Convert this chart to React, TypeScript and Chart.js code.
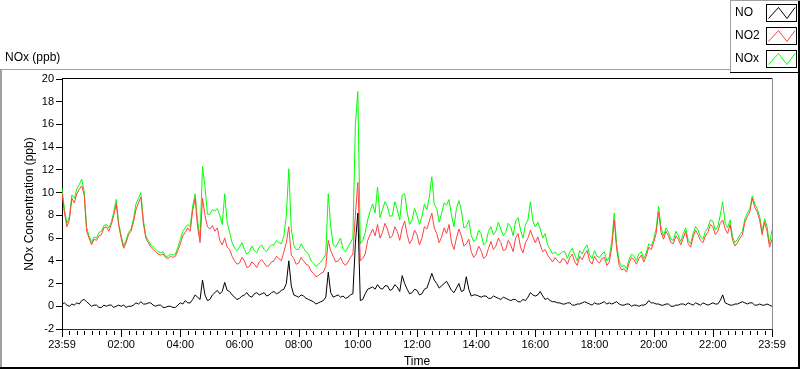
import React, { useEffect, useRef } from 'react';
import { Chart, registerables } from 'chart.js';

Chart.register(...registerables);

// ---- data ----
const SAMPLE_STEP_MIN = 5; // one sample every 5 minutes, starting 23:59
const X_LABELS = ['23:59', '02:00', '04:00', '06:00', '08:00', '10:00', '12:00', '14:00', '16:00', '18:00', '20:00', '22:00', '23:59'];
const X_MAJOR_STEP = 120; // minutes
const X_MINOR_STEP = 15; // minutes
const Y_TICKS = [-2, 0, 2, 4, 6, 8, 10, 12, 14, 16, 18, 20];
const SERIES_NAMES = ['NO', 'NO2', 'NOx'];
const SERIES_COLORS = ['#000000', '#ff4040', '#00ff00'];

// one row per hour (12 samples), last row closes at 23:59
const NO = [
  0.2, 0.3, 0.1, 0.0, 0.2, 0.1, 0.3, 0.2, 0.5, 0.6, 0.4, 0.2,
  0.0, 0.1, 0.1, -0.1, -0.1, 0.1, 0.0, 0.1, 0.1, -0.1, 0.0, 0.1,
  0.0, 0.1, -0.1, 0.0, 0.0, 0.1, 0.3, 0.2, 0.4, 0.2, 0.2, 0.3,
  0.3, 0.1, 0.0, 0.1, 0.1, -0.1, -0.1, 0.0, 0.0, -0.1, -0.1, 0.1,
  0.3, 0.2, 0.5, 0.3, 0.3, 0.6, 1.0, 0.8, 0.6, 2.3, 1.0, 0.5,
  0.6, 1.0, 1.2, 1.4, 1.1, 1.3, 2.1, 1.4, 1.3, 1.0, 0.8, 0.6,
  0.7, 0.9, 1.0, 1.2, 0.9, 0.8, 1.1, 1.2, 1.0, 1.1, 1.2, 0.9,
  1.0, 1.2, 1.3, 1.1, 1.2, 1.4, 1.5, 2.0, 4.0, 1.8, 1.0, 0.9,
  0.8, 1.0, 0.9, 0.7, 0.6, 0.5, 0.4, 0.2, 0.3, 0.4, 0.5, 0.8,
  3.0, 1.2, 0.8, 0.9, 1.0, 0.8, 0.9, 0.7, 0.8, 1.0, 1.1, 5.5,
  8.2, 0.5, 0.6, 1.1, 1.5, 1.6, 1.7, 1.5, 1.9, 1.6, 1.5, 1.8,
  1.8, 1.4, 1.5, 1.9, 1.7, 1.3, 2.7, 2.0, 1.5, 1.1, 1.2, 1.5,
  1.4, 1.0, 1.1, 1.5, 1.6, 2.2, 2.9, 2.3, 2.0, 1.6, 1.8, 2.0,
  2.2, 1.8, 1.4, 1.2, 1.6, 2.0, 1.3, 1.4, 2.6, 1.5, 0.9, 1.0,
  1.0, 0.9, 0.8, 0.9, 0.9, 0.7, 0.7, 0.9, 0.8, 0.7, 0.6, 0.8,
  0.7, 0.6, 0.5, 0.6, 0.6, 0.4, 0.4, 0.6, 0.5, 0.8, 1.2, 1.0,
  0.9, 1.0, 1.3, 0.9, 0.6, 0.7, 0.5, 0.4, 0.4, 0.3, 0.3, 0.2,
  0.2, 0.3, 0.3, 0.1, 0.1, 0.2, 0.2, 0.3, 0.4, 0.3, 0.2, 0.1,
  0.3, 0.2, 0.2, 0.3, 0.4, 0.2, 0.3, 0.2, 0.3, 0.4, 0.2, 0.1,
  0.1, 0.2, 0.2, 0.0, 0.1, 0.1, 0.0, 0.1, 0.1, 0.2, 0.5, 0.3,
  0.3, 0.2, 0.2, 0.1, 0.1, 0.2, 0.2, 0.0, 0.0, 0.1, 0.1, 0.2,
  0.2, 0.1, 0.3, 0.2, 0.1, 0.3, 0.2, 0.1, 0.3, 0.2, 0.1, 0.2,
  0.3, 0.2, 0.2, 0.5, 1.0, 0.3, 0.2, 0.1, 0.1, 0.2, 0.2, 0.3,
  0.4, 0.3, 0.2, 0.3, 0.3, 0.1, 0.1, 0.2, 0.1, 0.1, 0.2, 0.1, 0.0,
];

const NO2 = [
  10.0, 8.2, 7.0, 7.6, 9.5, 9.1, 9.9, 10.3, 10.6, 9.8, 6.6, 6.0,
  5.4, 5.9, 5.8, 6.2, 6.3, 6.9, 7.0, 6.6, 7.2, 8.0, 9.0, 7.1,
  6.0, 5.1, 5.6, 6.3, 6.6, 7.4, 8.5, 9.1, 9.6, 7.3, 6.0, 5.6,
  5.2, 5.0, 4.8, 4.6, 4.5, 4.6, 4.3, 4.2, 4.4, 4.3, 4.4, 4.9,
  5.5, 6.2, 6.5, 6.9, 6.6, 8.4, 9.5, 7.0, 5.6, 9.5, 8.0, 7.0,
  6.8, 7.1, 6.6, 6.9, 5.8, 5.4, 6.0, 5.2, 5.0, 4.4, 4.0, 3.7,
  3.8, 4.3, 4.0, 3.4, 3.5, 3.9, 3.7, 3.4, 3.9, 4.1, 3.8, 3.5,
  3.6, 3.9, 4.0, 4.4, 4.2, 4.0, 4.8, 5.6, 7.0, 4.5, 4.2, 3.7,
  3.8, 4.3, 4.0, 3.7, 3.6, 3.1, 2.9, 2.6, 2.7, 2.9, 3.0, 3.5,
  5.8, 4.9, 4.4, 3.9, 4.0, 4.3, 3.8, 3.6, 3.9, 4.3, 4.6, 8.0,
  10.9, 4.0, 4.2, 4.6, 5.8, 6.3, 6.8, 6.2, 7.2, 6.0, 6.5, 7.3,
  6.8, 6.0, 6.2, 7.0, 6.6, 5.8, 6.9, 7.5, 6.3, 5.5, 5.9, 6.7,
  6.3, 5.4, 6.0, 7.0, 6.8, 7.5, 8.2, 6.9, 6.4, 5.6, 6.1, 6.9,
  6.4, 7.2, 5.6, 5.0, 6.0, 6.8, 6.2, 5.3, 5.5, 5.9, 4.8, 4.3,
  4.6, 5.3, 4.9, 4.2, 4.4, 5.1, 5.7, 5.0, 5.3, 6.0, 5.6, 4.9,
  5.0, 5.8, 5.4, 4.8, 6.0, 6.4, 5.2, 4.7, 5.6, 6.0, 6.7, 6.1,
  5.6, 6.1, 5.4, 4.8, 5.0, 4.5, 4.2, 3.9, 4.3, 4.0, 3.8, 4.2,
  4.1, 3.7, 4.3, 4.6, 3.9, 3.6, 4.4, 4.1, 4.6, 4.9, 4.0, 3.7,
  4.4, 4.0, 3.8, 4.2, 4.3, 3.6, 3.9, 5.2, 7.6, 5.0, 3.6, 3.2,
  3.3, 3.0, 3.8, 4.3, 4.1, 3.7, 4.2, 4.5, 3.9, 4.4, 5.2, 5.0,
  5.6, 6.4, 8.3, 6.5, 5.9, 6.6, 6.2, 5.6, 5.5, 6.2, 5.9, 5.4,
  6.0, 6.6, 5.5, 5.2, 6.1, 6.7, 6.3, 5.8, 5.6, 6.2, 6.5, 7.2,
  7.0, 6.3, 6.6, 7.3, 7.6, 6.8, 6.4, 7.2, 5.8, 5.3, 5.6, 6.0,
  6.3, 7.4, 7.9, 8.3, 9.5, 8.7, 8.3, 7.6, 6.3, 7.4, 6.6, 5.2, 5.9,
];

const NOX = [
  10.4, 8.5, 7.3, 7.9, 9.8, 9.5, 10.3, 10.7, 11.2, 10.1, 6.9, 6.2,
  5.6, 6.1, 6.0, 6.5, 6.6, 7.1, 7.2, 6.9, 7.4, 8.3, 9.4, 7.3,
  6.2, 5.3, 5.8, 6.5, 6.8, 7.7, 9.0, 9.5, 10.0, 7.6, 6.2, 5.8,
  5.4, 5.2, 5.0, 4.8, 4.7, 4.8, 4.4, 4.4, 4.6, 4.5, 4.6, 5.2,
  5.9, 6.6, 6.9, 7.2, 7.0, 8.8, 9.9, 7.5, 6.1, 12.3, 10.5, 8.1,
  8.1, 8.5, 8.4, 8.6, 8.0, 7.2, 9.9, 7.4, 6.5, 5.6, 5.1, 4.9,
  5.2, 5.6, 5.0, 4.6, 4.8, 5.3, 4.9, 4.7, 5.2, 5.4, 5.0, 4.8,
  5.2, 5.4, 5.4, 5.8, 5.6, 5.5, 6.2, 8.0, 12.1, 6.8, 5.4, 5.0,
  5.0, 5.5, 5.1, 4.8, 4.6, 4.0, 3.8, 3.5, 3.7, 3.9, 4.2, 4.6,
  9.9, 7.0, 5.4, 5.2, 5.6, 6.0, 5.0, 4.8, 5.2, 5.6, 6.0, 16.0,
  18.9, 5.5, 5.8, 6.5, 7.6, 8.4, 9.0, 8.2, 10.5, 7.8, 8.5, 9.2,
  8.8, 7.9, 8.0, 9.2, 8.5, 7.6, 9.8, 9.9, 8.3, 7.2, 7.6, 8.6,
  8.0, 7.2, 7.9, 9.0, 8.5, 9.6, 11.4, 9.0, 8.6, 7.4, 8.2, 9.1,
  8.9, 9.4, 8.0, 7.0, 8.6, 9.3, 8.4, 6.9, 7.0, 7.6, 6.2, 5.7,
  5.9, 6.7, 6.4, 5.4, 5.6, 6.6, 7.0, 6.3, 6.6, 7.4, 6.8, 6.2,
  6.5, 7.3, 7.0, 6.2, 7.5, 7.8, 6.7, 6.0, 7.2, 7.6, 9.2, 7.5,
  7.0, 7.4, 6.8, 6.0, 6.4, 5.4, 5.0, 4.6, 4.8, 4.5, 4.6, 4.8,
  4.8, 4.2, 4.8, 5.1, 4.5, 4.0, 4.9, 4.6, 5.1, 5.4, 4.5, 4.2,
  4.9, 4.4, 4.3, 4.6, 4.8, 4.0, 4.3, 5.7, 8.2, 5.4, 4.0, 3.5,
  3.6, 3.3, 4.1, 4.6, 4.4, 4.0, 4.6, 4.8, 4.2, 4.7, 5.5, 5.3,
  5.9, 6.8, 8.8, 6.9, 6.2, 6.9, 6.5, 5.9, 5.8, 6.6, 6.2, 5.7,
  6.4, 6.9, 5.8, 5.5, 6.4, 7.0, 6.7, 6.1, 5.9, 6.6, 6.9, 7.6,
  7.5, 6.7, 7.0, 8.0, 9.2, 7.3, 6.9, 7.6, 6.1, 5.6, 5.9, 6.3,
  6.6, 7.7, 8.2, 8.6, 9.7, 9.0, 8.6, 7.9, 6.6, 7.7, 7.0, 5.5, 6.7,
];

const SERIES = [NO, NO2, NOX];

const FONT = "'Liberation Sans', Arial, sans-serif";
const TEXT_COLOR = '#000000';

const toPoints = (arr: number[]) => arr.map((v, i) => ({ x: i * SAMPLE_STEP_MIN, y: v }));

const framePlugin = {
  id: 'labviewFrame',
  afterDraw(chart: any) {
    const ctx: CanvasRenderingContext2D = chart.ctx;
    const { left, top, right, bottom } = chart.chartArea;
    const xs = chart.scales.x;
    ctx.save();
    // plot frame: top black, right gray
    ctx.fillStyle = '#000000';
    ctx.fillRect(Math.round(left), Math.round(top) - 1, Math.round(right - left) + 1, 1);
    ctx.fillStyle = '#8c8c8c';
    ctx.fillRect(Math.round(right), Math.round(top) - 1, 1, Math.round(bottom - top) + 1);

    // x-axis tick marks (major + minor)
    ctx.fillStyle = '#000000';
    const xMax = (X_LABELS.length - 1) * X_MAJOR_STEP;
    for (let m = 0; m <= xMax; m += X_MINOR_STEP) {
      const px = Math.round(xs.getPixelForValue(m));
      if (m % X_MAJOR_STEP === 0) ctx.fillRect(px, Math.round(bottom) + 1, 1, 7);
      else ctx.fillRect(px, Math.round(bottom) + 2, 1, 4);
    }

    // outer panel
    ctx.fillStyle = '#a0a0a0';
    ctx.fillRect(0, 69, 730, 1);
    ctx.fillRect(0, 69, 2, 300);
    ctx.fillStyle = '#000000';
    ctx.fillRect(0, 367, 800, 2);
    ctx.fillRect(798, 0, 2, 369);

    // legend box
    ctx.fillStyle = '#ffffff';
    ctx.fillRect(731, 0, 67, 72);
    ctx.fillStyle = '#a0a0a0';
    ctx.fillRect(730, 0, 1, 72);
    ctx.fillRect(730, 0, 70, 1);
    ctx.fillStyle = '#000000';
    ctx.fillRect(730, 72, 70, 1);

    // title
    ctx.fillStyle = TEXT_COLOR;
    ctx.font = `12px ${FONT}`;
    ctx.textBaseline = 'middle';
    ctx.textAlign = 'left';
    ctx.fillText('NOx (ppb)', 5, 58);

    // legend entries
    SERIES_NAMES.forEach((name, k) => {
      const by = 4 + k * 23;
      ctx.fillStyle = TEXT_COLOR;
      ctx.fillText(name, 735, by + 9);
      ctx.strokeStyle = '#000000';
      ctx.lineWidth = 1;
      ctx.strokeRect(766.5, by + 0.5, 30, 17);
      ctx.strokeStyle = SERIES_COLORS[k];
      ctx.beginPath();
      ctx.moveTo(768.5, by + 14.5);
      ctx.lineTo(778.5, by + 3.5);
      ctx.lineTo(787, by + 14.5);
      ctx.lineTo(795, by + 3.5);
      ctx.stroke();
    });
    ctx.restore();
  },
};

export default function App() {
  const ref = useRef<HTMLCanvasElement | null>(null);

  useEffect(() => {
    document.body.style.margin = '0';
    const canvas = ref.current;
    if (!canvas) return;
    const xMax = (X_LABELS.length - 1) * X_MAJOR_STEP;
    const chart = new Chart(canvas, {
      type: 'line',
      data: {
        datasets: SERIES.map((arr, k) => ({
          label: SERIES_NAMES[k],
          data: toPoints(arr),
          borderColor: SERIES_COLORS[k],
          backgroundColor: SERIES_COLORS[k],
          borderWidth: 1,
          pointRadius: 0,
          tension: 0,
          fill: false,
          order: k + 1,
        })),
      },
      options: {
        responsive: false,
        animation: false,
        devicePixelRatio: 1,
        layout: { padding: { left: 22, right: 28, top: 79, bottom: 0 } },
        plugins: { legend: { display: false }, tooltip: { enabled: false }, title: { display: false } },
        scales: {
          x: {
            type: 'linear',
            min: 0,
            max: xMax,
            afterBuildTicks: (scale: any) => {
              scale.ticks = X_LABELS.map((_, i) => ({ value: i * X_MAJOR_STEP }));
            },
            afterFit: (scale: any) => {
              scale.height = 40;
            },
            ticks: {
              autoSkip: false,
              maxRotation: 0,
              minRotation: 0,
              padding: 2,
              color: TEXT_COLOR,
              font: { family: FONT, size: 11 },
              callback: (v: any) => {
                const idx = Math.round(Number(v) / X_MAJOR_STEP);
                return X_LABELS[idx] ?? '';
              },
            },
            grid: { display: true, drawOnChartArea: false, drawTicks: true, tickLength: 7, tickColor: 'rgba(0,0,0,0)' },
            border: { display: true, color: '#303030', width: 1 },
            title: { display: true, text: 'Time', color: TEXT_COLOR, font: { family: FONT, size: 12 }, padding: 0 },
          },
          y: {
            type: 'linear',
            min: Y_TICKS[0],
            max: Y_TICKS[Y_TICKS.length - 1],
            afterBuildTicks: (scale: any) => {
              scale.ticks = Y_TICKS.map((v) => ({ value: v }));
            },
            afterFit: (scale: any) => {
              scale.width = 40;
            },
            ticks: {
              padding: 2,
              color: TEXT_COLOR,
              font: { family: FONT, size: 11 },
              callback: (v: any) => String(v),
            },
            grid: { display: true, drawOnChartArea: false, drawTicks: true, tickLength: 6, tickColor: '#000000' },
            border: { display: true, color: '#000000', width: 1 },
            title: { display: true, text: 'NOx Concentration (ppb)', color: TEXT_COLOR, font: { family: FONT, size: 12 }, padding: 0 },
          },
        },
      },
      plugins: [framePlugin],
    });
    return () => chart.destroy();
  }, []);

  return (
    <div style={{ position: 'absolute', left: 0, top: 0, width: 800, height: 369, background: '#ffffff' }}>
      <canvas ref={ref} width={800} height={369} style={{ display: 'block', width: 800, height: 369 }} />
    </div>
  );
}
